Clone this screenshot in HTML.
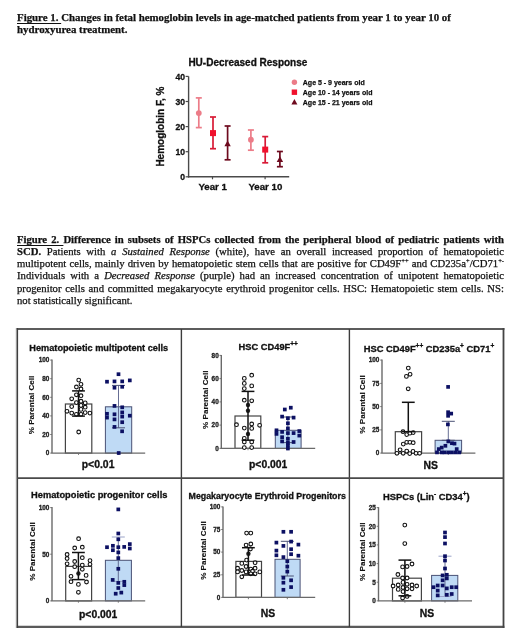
<!DOCTYPE html>
<html><head><meta charset="utf-8"><title>Figures</title>
<style>
html,body{margin:0;padding:0;background:#fff;}
body{width:520px;height:643px;position:relative;overflow:hidden;}
.cap{position:absolute;left:17px;width:487px;font-family:"Liberation Serif", "Times New Roman", serif;color:#111;-webkit-text-stroke:0.25px #111;}
.c1{top:11px;font-size:10.86px;line-height:12px;font-weight:bold;}
.c2{top:233px;font-size:10.7px;line-height:12.16px;}
.c2 .j{display:block;text-align:justify;text-align-last:justify;white-space:nowrap;}
.c2 .l{display:block;white-space:nowrap;}
u{text-decoration-thickness:1px;text-underline-offset:1.5px;}
sup{font-size:6.5px;line-height:0;vertical-align:4px;}
svg{position:absolute;left:0;top:0;}
svg text{font-family:"Liberation Sans", Arial, sans-serif;}
</style></head><body>
<div class="cap c1"><u>Figure 1. </u>Changes in fetal hemoglobin levels in age-matched patients from year 1 to year 10 of<br>hydroxyurea treatment.</div>
<div class="cap c2"><span class="j"><b><u>Figure 2. </u>Difference in subsets of HSPCs collected from the peripheral blood of pediatric patients with</b></span><span class="j"><b>SCD.</b> Patients with <i>a Sustained Response</i> (white), have an overall increased proportion of hematopoietic</span><span class="j">multipotent cells, mainly driven by hematopoietic stem cells that are positive for CD49F<sup>++</sup> and CD235a<sup>+</sup>/CD71<sup>+-</sup></span><span class="j">Individuals with a <i>Decreased Response</i> (purple) had an increased concentration of unipotent hematopoietic</span><span class="j">progenitor cells and committed megakaryocyte erythroid progenitor cells. HSC: Hematopoietic stem cells. NS:</span><span class="l">not statistically significant.</span></div>
<svg width="520" height="643" viewBox="0 0 520 643">
<line x1="188.6" y1="76.4" x2="188.6" y2="177.5" stroke="#4a4a4a" stroke-width="1.4"/>
<line x1="187.9" y1="176.8" x2="289.2" y2="176.8" stroke="#4a4a4a" stroke-width="1.4"/>
<line x1="185.6" y1="176.8" x2="188.6" y2="176.8" stroke="#4a4a4a" stroke-width="1.2"/>
<text x="185" y="179.9" text-anchor="end" font-size="8.6" font-weight="bold" fill="#111" stroke="#111" stroke-width="0.3">0</text>
<line x1="185.6" y1="151.7" x2="188.6" y2="151.7" stroke="#4a4a4a" stroke-width="1.2"/>
<text x="185" y="154.8" text-anchor="end" font-size="8.6" font-weight="bold" fill="#111" stroke="#111" stroke-width="0.3">10</text>
<line x1="185.6" y1="126.6" x2="188.6" y2="126.6" stroke="#4a4a4a" stroke-width="1.2"/>
<text x="185" y="129.7" text-anchor="end" font-size="8.6" font-weight="bold" fill="#111" stroke="#111" stroke-width="0.3">20</text>
<line x1="185.6" y1="101.5" x2="188.6" y2="101.5" stroke="#4a4a4a" stroke-width="1.2"/>
<text x="185" y="104.6" text-anchor="end" font-size="8.6" font-weight="bold" fill="#111" stroke="#111" stroke-width="0.3">30</text>
<line x1="185.6" y1="76.4" x2="188.6" y2="76.4" stroke="#4a4a4a" stroke-width="1.2"/>
<text x="185" y="79.5" text-anchor="end" font-size="8.6" font-weight="bold" fill="#111" stroke="#111" stroke-width="0.3">40</text>
<line x1="212.5" y1="176.8" x2="212.5" y2="179.3" stroke="#4a4a4a" stroke-width="1.2"/>
<line x1="265.1" y1="176.8" x2="265.1" y2="179.3" stroke="#4a4a4a" stroke-width="1.2"/>
<text x="212.7" y="190.1" text-anchor="middle" font-size="9.7" font-weight="bold" fill="#111" stroke="#111" stroke-width="0.3">Year 1</text>
<text x="265.4" y="190.1" text-anchor="middle" font-size="9.7" font-weight="bold" fill="#111" stroke="#111" stroke-width="0.3">Year 10</text>
<text x="188.4" y="66.2" font-size="10" font-weight="bold" fill="#111" stroke="#111" stroke-width="0.3">HU-Decreased Response</text>
<text transform="translate(163.6,126.6) rotate(-90)" text-anchor="middle" font-size="10" font-weight="bold" fill="#111" stroke="#111" stroke-width="0.3">Hemoglobin F, %</text>
<line x1="198.8" y1="97.9" x2="198.8" y2="127.6" stroke="#ec7c88" stroke-width="1.7"/>
<line x1="195.8" y1="97.9" x2="201.8" y2="97.9" stroke="#ec7c88" stroke-width="1.7"/>
<line x1="195.8" y1="127.6" x2="201.8" y2="127.6" stroke="#ec7c88" stroke-width="1.7"/>
<circle cx="198.8" cy="113.1" r="2.9" fill="#ec7c88"/>
<line x1="213.0" y1="117.0" x2="213.0" y2="148.7" stroke="#d81a36" stroke-width="1.7"/>
<line x1="210.0" y1="117.0" x2="216.0" y2="117.0" stroke="#d81a36" stroke-width="1.7"/>
<line x1="210.0" y1="148.7" x2="216.0" y2="148.7" stroke="#d81a36" stroke-width="1.7"/>
<rect x="210.0" y="130.1" width="6" height="6" fill="#f0102c"/>
<line x1="227.6" y1="126.0" x2="227.6" y2="159.8" stroke="#6e0a1e" stroke-width="1.7"/>
<line x1="224.6" y1="126.0" x2="230.6" y2="126.0" stroke="#6e0a1e" stroke-width="1.7"/>
<line x1="224.6" y1="159.8" x2="230.6" y2="159.8" stroke="#6e0a1e" stroke-width="1.7"/>
<polygon points="227.6,140.4 230.8,146.2 224.4,146.2" fill="#6e0a1e"/>
<line x1="250.9" y1="130.0" x2="250.9" y2="150.2" stroke="#ec7c88" stroke-width="1.7"/>
<line x1="247.9" y1="130.0" x2="253.9" y2="130.0" stroke="#ec7c88" stroke-width="1.7"/>
<line x1="247.9" y1="150.2" x2="253.9" y2="150.2" stroke="#ec7c88" stroke-width="1.7"/>
<circle cx="250.9" cy="139.7" r="2.9" fill="#ec7c88"/>
<line x1="265.2" y1="136.6" x2="265.2" y2="162.8" stroke="#d81a36" stroke-width="1.7"/>
<line x1="262.2" y1="136.6" x2="268.2" y2="136.6" stroke="#d81a36" stroke-width="1.7"/>
<line x1="262.2" y1="162.8" x2="268.2" y2="162.8" stroke="#d81a36" stroke-width="1.7"/>
<rect x="262.2" y="146.6" width="6" height="6" fill="#f0102c"/>
<line x1="279.9" y1="151.5" x2="279.9" y2="166.7" stroke="#6e0a1e" stroke-width="1.7"/>
<line x1="276.9" y1="151.5" x2="282.9" y2="151.5" stroke="#6e0a1e" stroke-width="1.7"/>
<line x1="276.9" y1="166.7" x2="282.9" y2="166.7" stroke="#6e0a1e" stroke-width="1.7"/>
<polygon points="279.9,156.2 283.1,162.0 276.7,162.0" fill="#6e0a1e"/>
<circle cx="294.4" cy="82.3" r="2.7" fill="#ec7c88"/>
<rect x="291.7" y="89.5" width="5.4" height="5.4" fill="#f0102c"/>
<polygon points="294.4,99.0 297.4,104.4 291.4,104.4" fill="#6e0a1e"/>
<text x="302.8" y="84.8" font-size="7" font-weight="bold" fill="#111" stroke="#111" stroke-width="0.25">Age 5 - 9 years old</text>
<text x="302.8" y="94.7" font-size="7" font-weight="bold" fill="#111" stroke="#111" stroke-width="0.25">Age 10 - 14 years old</text>
<text x="302.8" y="104.7" font-size="7" font-weight="bold" fill="#111" stroke="#111" stroke-width="0.25">Age 15 - 21 years old</text>
<line x1="16.3" y1="329" x2="504.4" y2="329" stroke="#5c5c5c" stroke-width="2.1"/>
<line x1="16.3" y1="626.9" x2="504.4" y2="626.9" stroke="#5a5a5a" stroke-width="2.1"/>
<line x1="17.2" y1="328" x2="17.2" y2="628" stroke="#3e3e3e" stroke-width="1.8"/>
<line x1="16.2" y1="328" x2="16.2" y2="628" stroke="#b8b8b8" stroke-width="0.8"/>
<line x1="503.5" y1="328" x2="503.5" y2="628" stroke="#444" stroke-width="1.8"/>
<line x1="181.4" y1="329" x2="181.4" y2="627" stroke="#3c3c3c" stroke-width="1.4"/>
<line x1="349.4" y1="329" x2="349.4" y2="627" stroke="#3c3c3c" stroke-width="1.4"/>
<line x1="17" y1="478.2" x2="503.5" y2="478.2" stroke="#4a4a4a" stroke-width="1.7"/>
<text x="29.3" y="351.0" font-size="9.2" font-weight="bold" fill="#111" stroke="#111" stroke-width="0.3">Hematopoietic multipotent cells</text>
<text transform="translate(34.4,405.0) rotate(-90)" text-anchor="middle" font-size="8.1" font-weight="bold" fill="#111" stroke="#111" stroke-width="0.12">% Parental Cell</text>
<rect x="65.4" y="404.0" width="26.4" height="49.1" fill="#fff" stroke="#444" stroke-width="1.2"/>
<rect x="105.4" y="406.8" width="26.3" height="46.3" fill="#bfdaf5" stroke="#4a5275" stroke-width="1"/>
<line x1="52.0" y1="359.6" x2="52.0" y2="453.1" stroke="#6a6a6a" stroke-width="1.4"/>
<line x1="51.5" y1="453.1" x2="145.2" y2="453.1" stroke="#6a6a6a" stroke-width="1.3"/>
<line x1="50.2" y1="453.1" x2="52.0" y2="453.1" stroke="#6a6a6a" stroke-width="0.9"/>
<text x="49.4" y="455.4" text-anchor="end" font-size="6.4" font-weight="bold" fill="#222" stroke="#222" stroke-width="0.3">0</text>
<line x1="50.2" y1="434.5" x2="52.0" y2="434.5" stroke="#6a6a6a" stroke-width="0.9"/>
<text x="49.4" y="436.8" text-anchor="end" font-size="6.4" font-weight="bold" fill="#222" stroke="#222" stroke-width="0.3">20</text>
<line x1="50.2" y1="415.9" x2="52.0" y2="415.9" stroke="#6a6a6a" stroke-width="0.9"/>
<text x="49.4" y="418.2" text-anchor="end" font-size="6.4" font-weight="bold" fill="#222" stroke="#222" stroke-width="0.3">40</text>
<line x1="50.2" y1="397.3" x2="52.0" y2="397.3" stroke="#6a6a6a" stroke-width="0.9"/>
<text x="49.4" y="399.6" text-anchor="end" font-size="6.4" font-weight="bold" fill="#222" stroke="#222" stroke-width="0.3">60</text>
<line x1="50.2" y1="378.7" x2="52.0" y2="378.7" stroke="#6a6a6a" stroke-width="0.9"/>
<text x="49.4" y="381.0" text-anchor="end" font-size="6.4" font-weight="bold" fill="#222" stroke="#222" stroke-width="0.3">80</text>
<line x1="50.2" y1="360.1" x2="52.0" y2="360.1" stroke="#6a6a6a" stroke-width="0.9"/>
<text x="49.4" y="362.4" text-anchor="end" font-size="6.4" font-weight="bold" fill="#222" stroke="#222" stroke-width="0.3">100</text>
<line x1="78.5" y1="453.1" x2="78.5" y2="454.90000000000003" stroke="#6a6a6a" stroke-width="0.9"/>
<line x1="118.5" y1="453.1" x2="118.5" y2="454.90000000000003" stroke="#6a6a6a" stroke-width="0.9"/>
<line x1="118.5" y1="385.4" x2="118.5" y2="427.8" stroke="#565d88" stroke-width="0.9"/>
<line x1="112.0" y1="385.4" x2="125.0" y2="385.4" stroke="#4a5275" stroke-width="1"/>
<line x1="112.0" y1="427.8" x2="125.0" y2="427.8" stroke="#4a5275" stroke-width="1"/>
<circle cx="78.7" cy="380.1" r="1.85" fill="#fff" stroke="#111" stroke-width="1.1"/>
<circle cx="81.0" cy="384.3" r="1.85" fill="#fff" stroke="#111" stroke-width="1.1"/>
<circle cx="76.4" cy="387" r="1.85" fill="#fff" stroke="#111" stroke-width="1.1"/>
<circle cx="81" cy="389" r="1.85" fill="#fff" stroke="#111" stroke-width="1.1"/>
<circle cx="76.4" cy="394.8" r="1.85" fill="#fff" stroke="#111" stroke-width="1.1"/>
<circle cx="81" cy="395.7" r="1.85" fill="#fff" stroke="#111" stroke-width="1.1"/>
<circle cx="71.7" cy="398.8" r="1.85" fill="#fff" stroke="#111" stroke-width="1.1"/>
<circle cx="76.4" cy="402.6" r="1.85" fill="#fff" stroke="#111" stroke-width="1.1"/>
<circle cx="81" cy="401.2" r="1.85" fill="#fff" stroke="#111" stroke-width="1.1"/>
<circle cx="85.2" cy="402.9" r="1.85" fill="#fff" stroke="#111" stroke-width="1.1"/>
<circle cx="71.7" cy="406.6" r="1.85" fill="#fff" stroke="#111" stroke-width="1.1"/>
<circle cx="81" cy="405.4" r="1.85" fill="#fff" stroke="#111" stroke-width="1.1"/>
<circle cx="85.2" cy="407.2" r="1.85" fill="#fff" stroke="#111" stroke-width="1.1"/>
<circle cx="67" cy="411.3" r="1.85" fill="#fff" stroke="#111" stroke-width="1.1"/>
<circle cx="81" cy="409.4" r="1.85" fill="#fff" stroke="#111" stroke-width="1.1"/>
<circle cx="71.7" cy="413.1" r="1.85" fill="#fff" stroke="#111" stroke-width="1.1"/>
<circle cx="76.4" cy="414.3" r="1.85" fill="#fff" stroke="#111" stroke-width="1.1"/>
<circle cx="81" cy="414.3" r="1.85" fill="#fff" stroke="#111" stroke-width="1.1"/>
<circle cx="85.2" cy="412.6" r="1.85" fill="#fff" stroke="#111" stroke-width="1.1"/>
<circle cx="89.9" cy="413.1" r="1.85" fill="#fff" stroke="#111" stroke-width="1.1"/>
<circle cx="78.7" cy="432" r="1.85" fill="#fff" stroke="#111" stroke-width="1.1"/>
<rect x="116.65" y="372.35" width="3.7" height="3.7" fill="#0c1063"/>
<rect x="105.15" y="379.85" width="3.7" height="3.7" fill="#0c1063"/>
<rect x="112.65" y="379.55" width="3.7" height="3.7" fill="#0c1063"/>
<rect x="120.35" y="379.55" width="3.7" height="3.7" fill="#0c1063"/>
<rect x="127.95" y="378.55" width="3.7" height="3.7" fill="#0c1063"/>
<rect x="112.65" y="385.85" width="3.7" height="3.7" fill="#0c1063"/>
<rect x="120.35" y="384.95" width="3.7" height="3.7" fill="#0c1063"/>
<rect x="112.65" y="404.05" width="3.7" height="3.7" fill="#0c1063"/>
<rect x="120.35" y="405.45" width="3.7" height="3.7" fill="#0c1063"/>
<rect x="120.35" y="410.55" width="3.7" height="3.7" fill="#0c1063"/>
<rect x="105.15" y="411.95" width="3.7" height="3.7" fill="#0c1063"/>
<rect x="105.15" y="415.75" width="3.7" height="3.7" fill="#0c1063"/>
<rect x="112.65" y="412.45" width="3.7" height="3.7" fill="#0c1063"/>
<rect x="120.35" y="414.75" width="3.7" height="3.7" fill="#0c1063"/>
<rect x="127.95" y="413.85" width="3.7" height="3.7" fill="#0c1063"/>
<rect x="112.65" y="417.55" width="3.7" height="3.7" fill="#0c1063"/>
<rect x="120.35" y="420.35" width="3.7" height="3.7" fill="#0c1063"/>
<rect x="112.65" y="425.05" width="3.7" height="3.7" fill="#0c1063"/>
<rect x="120.25" y="429.45" width="3.7" height="3.7" fill="#0c1063"/>
<rect x="116.85" y="451.15" width="3.7" height="3.7" fill="#0c1063"/>
<line x1="78.5" y1="390.9" x2="78.5" y2="416.1" stroke="#111" stroke-width="1.5"/>
<line x1="72.1" y1="390.9" x2="84.9" y2="390.9" stroke="#111" stroke-width="1.5"/>
<line x1="72.1" y1="416.1" x2="84.9" y2="416.1" stroke="#111" stroke-width="1.5"/>
<text x="98.1" y="468.3" text-anchor="middle" font-size="10.4" font-weight="bold" fill="#111" stroke="#111" stroke-width="0.3">p&lt;0.01</text>
<text x="238.6" y="349.8" font-size="9.3" font-weight="bold" fill="#111" stroke="#111" stroke-width="0.3">HSC CD49F<tspan font-size="6.5" dy="-3.4">++</tspan></text>
<text transform="translate(207.9,399.7) rotate(-90)" text-anchor="middle" font-size="8.1" font-weight="bold" fill="#111" stroke="#111" stroke-width="0.12">% Parental Cell</text>
<rect x="235.0" y="416.0" width="25.8" height="32.4" fill="#fff" stroke="#444" stroke-width="1.2"/>
<rect x="275.3" y="430.3" width="25.8" height="18.1" fill="#bfdaf5" stroke="#4a5275" stroke-width="1"/>
<line x1="221.3" y1="354.9" x2="221.3" y2="448.4" stroke="#6a6a6a" stroke-width="1.4"/>
<line x1="220.8" y1="448.4" x2="315.2" y2="448.4" stroke="#6a6a6a" stroke-width="1.3"/>
<line x1="219.5" y1="448.4" x2="221.3" y2="448.4" stroke="#6a6a6a" stroke-width="0.9"/>
<text x="218.7" y="450.7" text-anchor="end" font-size="6.4" font-weight="bold" fill="#222" stroke="#222" stroke-width="0.3">0</text>
<line x1="219.5" y1="425.1" x2="221.3" y2="425.1" stroke="#6a6a6a" stroke-width="0.9"/>
<text x="218.7" y="427.4" text-anchor="end" font-size="6.4" font-weight="bold" fill="#222" stroke="#222" stroke-width="0.3">20</text>
<line x1="219.5" y1="401.9" x2="221.3" y2="401.9" stroke="#6a6a6a" stroke-width="0.9"/>
<text x="218.7" y="404.2" text-anchor="end" font-size="6.4" font-weight="bold" fill="#222" stroke="#222" stroke-width="0.3">40</text>
<line x1="219.5" y1="378.6" x2="221.3" y2="378.6" stroke="#6a6a6a" stroke-width="0.9"/>
<text x="218.7" y="380.9" text-anchor="end" font-size="6.4" font-weight="bold" fill="#222" stroke="#222" stroke-width="0.3">60</text>
<line x1="219.5" y1="355.4" x2="221.3" y2="355.4" stroke="#6a6a6a" stroke-width="0.9"/>
<text x="218.7" y="357.7" text-anchor="end" font-size="6.4" font-weight="bold" fill="#222" stroke="#222" stroke-width="0.3">80</text>
<line x1="248.0" y1="448.4" x2="248.0" y2="450.2" stroke="#6a6a6a" stroke-width="0.9"/>
<line x1="287.9" y1="448.4" x2="287.9" y2="450.2" stroke="#6a6a6a" stroke-width="0.9"/>
<line x1="287.9" y1="417.0" x2="287.9" y2="442.6" stroke="#565d88" stroke-width="0.9"/>
<line x1="281.4" y1="417.0" x2="294.4" y2="417.0" stroke="#4a5275" stroke-width="1"/>
<line x1="281.4" y1="442.6" x2="294.4" y2="442.6" stroke="#4a5275" stroke-width="1"/>
<circle cx="251.7" cy="375.2" r="1.85" fill="#fff" stroke="#111" stroke-width="1.1"/>
<circle cx="244.3" cy="378.4" r="1.85" fill="#fff" stroke="#111" stroke-width="1.1"/>
<circle cx="244.3" cy="383.4" r="1.85" fill="#fff" stroke="#111" stroke-width="1.1"/>
<circle cx="251.7" cy="385.9" r="1.85" fill="#fff" stroke="#111" stroke-width="1.1"/>
<circle cx="244.3" cy="388.6" r="1.85" fill="#fff" stroke="#111" stroke-width="1.1"/>
<circle cx="244.3" cy="400.2" r="1.85" fill="#fff" stroke="#111" stroke-width="1.1"/>
<circle cx="251.7" cy="400.8" r="1.85" fill="#fff" stroke="#111" stroke-width="1.1"/>
<circle cx="236.5" cy="424.7" r="1.85" fill="#fff" stroke="#111" stroke-width="1.1"/>
<circle cx="251.7" cy="424.0" r="1.85" fill="#fff" stroke="#111" stroke-width="1.1"/>
<circle cx="259.6" cy="425.3" r="1.85" fill="#fff" stroke="#111" stroke-width="1.1"/>
<circle cx="244.3" cy="428.1" r="1.85" fill="#fff" stroke="#111" stroke-width="1.1"/>
<circle cx="251.7" cy="428.4" r="1.85" fill="#fff" stroke="#111" stroke-width="1.1"/>
<circle cx="244.3" cy="438.3" r="1.85" fill="#fff" stroke="#111" stroke-width="1.1"/>
<circle cx="244.3" cy="442.0" r="1.85" fill="#fff" stroke="#111" stroke-width="1.1"/>
<circle cx="251.7" cy="442.0" r="1.85" fill="#fff" stroke="#111" stroke-width="1.1"/>
<circle cx="244.3" cy="447.6" r="1.85" fill="#fff" stroke="#111" stroke-width="1.1"/>
<circle cx="251.7" cy="447.6" r="1.85" fill="#fff" stroke="#111" stroke-width="1.1"/>
<circle cx="248" cy="405" r="2.2" fill="#222"/>
<circle cx="248" cy="410.7" r="2.2" fill="#222"/>
<circle cx="248" cy="434" r="2.2" fill="#222"/>
<rect x="288.95" y="405.85" width="3.7" height="3.7" fill="#0c1063"/>
<rect x="282.95" y="407.65" width="3.7" height="3.7" fill="#0c1063"/>
<rect x="280.25" y="414.75" width="3.7" height="3.7" fill="#0c1063"/>
<rect x="286.05" y="416.35" width="3.7" height="3.7" fill="#0c1063"/>
<rect x="291.75" y="415.75" width="3.7" height="3.7" fill="#0c1063"/>
<rect x="286.05" y="421.45" width="3.7" height="3.7" fill="#0c1063"/>
<rect x="286.05" y="426.55" width="3.7" height="3.7" fill="#0c1063"/>
<rect x="274.65" y="428.45" width="3.7" height="3.7" fill="#0c1063"/>
<rect x="274.65" y="432.05" width="3.7" height="3.7" fill="#0c1063"/>
<rect x="280.25" y="430.05" width="3.7" height="3.7" fill="#0c1063"/>
<rect x="286.05" y="431.25" width="3.7" height="3.7" fill="#0c1063"/>
<rect x="291.75" y="431.25" width="3.7" height="3.7" fill="#0c1063"/>
<rect x="297.45" y="429.25" width="3.7" height="3.7" fill="#0c1063"/>
<rect x="297.45" y="433.75" width="3.7" height="3.7" fill="#0c1063"/>
<rect x="280.25" y="435.35" width="3.7" height="3.7" fill="#0c1063"/>
<rect x="280.25" y="439.55" width="3.7" height="3.7" fill="#0c1063"/>
<rect x="286.05" y="436.95" width="3.7" height="3.7" fill="#0c1063"/>
<rect x="286.05" y="440.95" width="3.7" height="3.7" fill="#0c1063"/>
<rect x="291.75" y="440.15" width="3.7" height="3.7" fill="#0c1063"/>
<rect x="286.05" y="443.45" width="3.7" height="3.7" fill="#0c1063"/>
<rect x="286.05" y="446.65" width="3.7" height="3.7" fill="#0c1063"/>
<line x1="248.0" y1="391.4" x2="248.0" y2="440.2" stroke="#111" stroke-width="1.5"/>
<line x1="241.6" y1="391.4" x2="254.4" y2="391.4" stroke="#111" stroke-width="1.5"/>
<line x1="241.6" y1="440.2" x2="254.4" y2="440.2" stroke="#111" stroke-width="1.5"/>
<text x="268.2" y="468.3" text-anchor="middle" font-size="10.4" font-weight="bold" fill="#111" stroke="#111" stroke-width="0.3">p&lt;0.001</text>
<text x="363.7" y="351.8" font-size="9.35" font-weight="bold" fill="#111" stroke="#111" stroke-width="0.3">HSC CD49F<tspan font-size="6.5" dy="-3.4">++</tspan><tspan dy="3.4"> CD235a</tspan><tspan font-size="6.5" dy="-3.4">+</tspan><tspan dy="3.4"> CD71</tspan><tspan font-size="6.5" dy="-3.4">+</tspan></text>
<text transform="translate(364.5,404.4) rotate(-90)" text-anchor="middle" font-size="8.1" font-weight="bold" fill="#111" stroke="#111" stroke-width="0.12">% Parental Cell</text>
<rect x="395.3" y="431.7" width="26.3" height="21.4" fill="#fff" stroke="#444" stroke-width="1.2"/>
<rect x="435.1" y="440.3" width="26.5" height="12.8" fill="#bfdaf5" stroke="#4a5275" stroke-width="1"/>
<line x1="382.0" y1="359.6" x2="382.0" y2="453.1" stroke="#6a6a6a" stroke-width="1.4"/>
<line x1="381.5" y1="453.1" x2="475.4" y2="453.1" stroke="#6a6a6a" stroke-width="1.3"/>
<line x1="380.2" y1="453.1" x2="382.0" y2="453.1" stroke="#6a6a6a" stroke-width="0.9"/>
<text x="379.4" y="455.4" text-anchor="end" font-size="6.4" font-weight="bold" fill="#222" stroke="#222" stroke-width="0.3">0</text>
<line x1="380.2" y1="429.9" x2="382.0" y2="429.9" stroke="#6a6a6a" stroke-width="0.9"/>
<text x="379.4" y="432.2" text-anchor="end" font-size="6.4" font-weight="bold" fill="#222" stroke="#222" stroke-width="0.3">25</text>
<line x1="380.2" y1="406.6" x2="382.0" y2="406.6" stroke="#6a6a6a" stroke-width="0.9"/>
<text x="379.4" y="408.9" text-anchor="end" font-size="6.4" font-weight="bold" fill="#222" stroke="#222" stroke-width="0.3">50</text>
<line x1="380.2" y1="383.4" x2="382.0" y2="383.4" stroke="#6a6a6a" stroke-width="0.9"/>
<text x="379.4" y="385.7" text-anchor="end" font-size="6.4" font-weight="bold" fill="#222" stroke="#222" stroke-width="0.3">75</text>
<line x1="380.2" y1="360.1" x2="382.0" y2="360.1" stroke="#6a6a6a" stroke-width="0.9"/>
<text x="379.4" y="362.4" text-anchor="end" font-size="6.4" font-weight="bold" fill="#222" stroke="#222" stroke-width="0.3">100</text>
<line x1="408.3" y1="453.1" x2="408.3" y2="454.90000000000003" stroke="#6a6a6a" stroke-width="0.9"/>
<line x1="448.3" y1="453.1" x2="448.3" y2="454.90000000000003" stroke="#6a6a6a" stroke-width="0.9"/>
<line x1="448.3" y1="421.3" x2="448.3" y2="440.3" stroke="#565d88" stroke-width="0.9"/>
<line x1="441.8" y1="421.3" x2="454.8" y2="421.3" stroke="#4a5275" stroke-width="1"/>
<line x1="441.8" y1="440.3" x2="454.8" y2="440.3" stroke="#4a5275" stroke-width="1"/>
<circle cx="408.3" cy="368.1" r="1.85" fill="#fff" stroke="#111" stroke-width="1.1"/>
<circle cx="410.1" cy="374.3" r="1.85" fill="#fff" stroke="#111" stroke-width="1.1"/>
<circle cx="406.4" cy="376.4" r="1.85" fill="#fff" stroke="#111" stroke-width="1.1"/>
<circle cx="408.2" cy="388.8" r="1.85" fill="#fff" stroke="#111" stroke-width="1.1"/>
<circle cx="403" cy="431.7" r="1.85" fill="#fff" stroke="#111" stroke-width="1.1"/>
<circle cx="406.7" cy="434.6" r="1.85" fill="#fff" stroke="#111" stroke-width="1.1"/>
<circle cx="409.9" cy="433.2" r="1.85" fill="#fff" stroke="#111" stroke-width="1.1"/>
<circle cx="413.2" cy="432.6" r="1.85" fill="#fff" stroke="#111" stroke-width="1.1"/>
<circle cx="403.3" cy="444.1" r="1.85" fill="#fff" stroke="#111" stroke-width="1.1"/>
<circle cx="406.7" cy="442.3" r="1.85" fill="#fff" stroke="#111" stroke-width="1.1"/>
<circle cx="409.9" cy="442.3" r="1.85" fill="#fff" stroke="#111" stroke-width="1.1"/>
<circle cx="413.2" cy="442.7" r="1.85" fill="#fff" stroke="#111" stroke-width="1.1"/>
<circle cx="400.1" cy="449.8" r="1.85" fill="#fff" stroke="#111" stroke-width="1.1"/>
<circle cx="406.7" cy="451.1" r="1.85" fill="#fff" stroke="#111" stroke-width="1.1"/>
<circle cx="413" cy="451.4" r="1.85" fill="#fff" stroke="#111" stroke-width="1.1"/>
<circle cx="396.9" cy="453.3" r="1.85" fill="#fff" stroke="#111" stroke-width="1.1"/>
<circle cx="403.2" cy="453.3" r="1.85" fill="#fff" stroke="#111" stroke-width="1.1"/>
<circle cx="409.7" cy="453.6" r="1.85" fill="#fff" stroke="#111" stroke-width="1.1"/>
<circle cx="416" cy="453.3" r="1.85" fill="#fff" stroke="#111" stroke-width="1.1"/>
<circle cx="419.6" cy="453.3" r="1.85" fill="#fff" stroke="#111" stroke-width="1.1"/>
<rect x="446.25" y="385.05" width="3.7" height="3.7" fill="#0c1063"/>
<rect x="446.25" y="410.35" width="3.7" height="3.7" fill="#0c1063"/>
<rect x="449.35" y="411.75" width="3.7" height="3.7" fill="#0c1063"/>
<rect x="446.25" y="413.95" width="3.7" height="3.7" fill="#0c1063"/>
<rect x="446.05" y="422.55" width="3.7" height="3.7" fill="#0c1063"/>
<rect x="446.45" y="439.55" width="3.7" height="3.7" fill="#0c1063"/>
<rect x="450.05" y="441.35" width="3.7" height="3.7" fill="#0c1063"/>
<rect x="452.65" y="441.75" width="3.7" height="3.7" fill="#0c1063"/>
<rect x="443.55" y="443.95" width="3.7" height="3.7" fill="#0c1063"/>
<rect x="439.85" y="445.75" width="3.7" height="3.7" fill="#0c1063"/>
<rect x="436.95" y="447.25" width="3.7" height="3.7" fill="#0c1063"/>
<rect x="454.85" y="447.25" width="3.7" height="3.7" fill="#0c1063"/>
<rect x="435.15" y="450.55" width="3.7" height="3.7" fill="#0c1063"/>
<rect x="439.85" y="450.55" width="3.7" height="3.7" fill="#0c1063"/>
<rect x="442.75" y="450.55" width="3.7" height="3.7" fill="#0c1063"/>
<rect x="446.45" y="450.55" width="3.7" height="3.7" fill="#0c1063"/>
<rect x="450.05" y="450.55" width="3.7" height="3.7" fill="#0c1063"/>
<rect x="453.75" y="450.55" width="3.7" height="3.7" fill="#0c1063"/>
<rect x="457.35" y="450.55" width="3.7" height="3.7" fill="#0c1063"/>
<line x1="408.3" y1="402.3" x2="408.3" y2="431.7" stroke="#111" stroke-width="1.5"/>
<line x1="401.9" y1="402.3" x2="414.7" y2="402.3" stroke="#111" stroke-width="1.5"/>
<line x1="401.9" y1="431.7" x2="414.7" y2="431.7" stroke="#111" stroke-width="1.5"/>
<text x="430.8" y="468.6" text-anchor="middle" font-size="10.4" font-weight="bold" fill="#111" stroke="#111" stroke-width="0.3">NS</text>
<text x="31.0" y="498.4" font-size="9.3" font-weight="bold" fill="#111" stroke="#111" stroke-width="0.3">Hematopoietic progenitor cells</text>
<text transform="translate(34.5,551.5) rotate(-90)" text-anchor="middle" font-size="8.1" font-weight="bold" fill="#111" stroke="#111" stroke-width="0.12">% Parental Cell</text>
<rect x="65.7" y="566.4" width="25.9" height="34.5" fill="#fff" stroke="#444" stroke-width="1.2"/>
<rect x="105.4" y="560.3" width="26.0" height="40.6" fill="#bfdaf5" stroke="#4a5275" stroke-width="1"/>
<line x1="52.0" y1="507.1" x2="52.0" y2="600.9" stroke="#6a6a6a" stroke-width="1.4"/>
<line x1="51.5" y1="600.9" x2="145.2" y2="600.9" stroke="#6a6a6a" stroke-width="1.3"/>
<line x1="50.2" y1="600.9" x2="52.0" y2="600.9" stroke="#6a6a6a" stroke-width="0.9"/>
<text x="49.4" y="603.2" text-anchor="end" font-size="6.4" font-weight="bold" fill="#222" stroke="#222" stroke-width="0.3">0</text>
<line x1="50.2" y1="554.2" x2="52.0" y2="554.2" stroke="#6a6a6a" stroke-width="0.9"/>
<text x="49.4" y="556.5" text-anchor="end" font-size="6.4" font-weight="bold" fill="#222" stroke="#222" stroke-width="0.3">50</text>
<line x1="50.2" y1="507.6" x2="52.0" y2="507.6" stroke="#6a6a6a" stroke-width="0.9"/>
<text x="49.4" y="509.9" text-anchor="end" font-size="6.4" font-weight="bold" fill="#222" stroke="#222" stroke-width="0.3">100</text>
<line x1="78.4" y1="600.9" x2="78.4" y2="602.6999999999999" stroke="#6a6a6a" stroke-width="0.9"/>
<line x1="118.3" y1="600.9" x2="118.3" y2="602.6999999999999" stroke="#6a6a6a" stroke-width="0.9"/>
<line x1="118.3" y1="537.0" x2="118.3" y2="581.4" stroke="#565d88" stroke-width="0.9"/>
<line x1="111.8" y1="537.0" x2="124.8" y2="537.0" stroke="#9aa3c8" stroke-width="1"/>
<line x1="111.8" y1="581.4" x2="124.8" y2="581.4" stroke="#9aa3c8" stroke-width="1"/>
<circle cx="78.6" cy="538.7" r="1.85" fill="#fff" stroke="#111" stroke-width="1.1"/>
<circle cx="74.7" cy="548" r="1.85" fill="#fff" stroke="#111" stroke-width="1.1"/>
<circle cx="82.3" cy="547.2" r="1.85" fill="#fff" stroke="#111" stroke-width="1.1"/>
<circle cx="67.1" cy="554.5" r="1.85" fill="#fff" stroke="#111" stroke-width="1.1"/>
<circle cx="67.1" cy="558.5" r="1.85" fill="#fff" stroke="#111" stroke-width="1.1"/>
<circle cx="67.1" cy="563.8" r="1.85" fill="#fff" stroke="#111" stroke-width="1.1"/>
<circle cx="82.3" cy="557.7" r="1.85" fill="#fff" stroke="#111" stroke-width="1.1"/>
<circle cx="74.7" cy="561.5" r="1.85" fill="#fff" stroke="#111" stroke-width="1.1"/>
<circle cx="74.7" cy="566.7" r="1.85" fill="#fff" stroke="#111" stroke-width="1.1"/>
<circle cx="82.3" cy="565.1" r="1.85" fill="#fff" stroke="#111" stroke-width="1.1"/>
<circle cx="82.3" cy="569.3" r="1.85" fill="#fff" stroke="#111" stroke-width="1.1"/>
<circle cx="90" cy="560.6" r="1.85" fill="#fff" stroke="#111" stroke-width="1.1"/>
<circle cx="90" cy="564.3" r="1.85" fill="#fff" stroke="#111" stroke-width="1.1"/>
<circle cx="71" cy="576.3" r="1.85" fill="#fff" stroke="#111" stroke-width="1.1"/>
<circle cx="86.1" cy="575.4" r="1.85" fill="#fff" stroke="#111" stroke-width="1.1"/>
<circle cx="71" cy="581.7" r="1.85" fill="#fff" stroke="#111" stroke-width="1.1"/>
<circle cx="86.5" cy="582" r="1.85" fill="#fff" stroke="#111" stroke-width="1.1"/>
<circle cx="78.4" cy="584.4" r="1.85" fill="#fff" stroke="#111" stroke-width="1.1"/>
<circle cx="78.4" cy="592.3" r="1.85" fill="#fff" stroke="#111" stroke-width="1.1"/>
<circle cx="78.4" cy="573.5" r="2.2" fill="#222"/>
<rect x="116.45" y="507.55" width="3.7" height="3.7" fill="#0c1063"/>
<rect x="116.45" y="531.65" width="3.7" height="3.7" fill="#0c1063"/>
<rect x="116.45" y="537.45" width="3.7" height="3.7" fill="#0c1063"/>
<rect x="105.15" y="545.35" width="3.7" height="3.7" fill="#0c1063"/>
<rect x="111.05" y="543.95" width="3.7" height="3.7" fill="#0c1063"/>
<rect x="111.05" y="548.35" width="3.7" height="3.7" fill="#0c1063"/>
<rect x="116.45" y="545.35" width="3.7" height="3.7" fill="#0c1063"/>
<rect x="122.35" y="545.05" width="3.7" height="3.7" fill="#0c1063"/>
<rect x="127.95" y="542.25" width="3.7" height="3.7" fill="#0c1063"/>
<rect x="127.95" y="546.65" width="3.7" height="3.7" fill="#0c1063"/>
<rect x="116.45" y="550.55" width="3.7" height="3.7" fill="#0c1063"/>
<rect x="116.45" y="556.25" width="3.7" height="3.7" fill="#0c1063"/>
<rect x="116.45" y="566.95" width="3.7" height="3.7" fill="#0c1063"/>
<rect x="110.85" y="578.05" width="3.7" height="3.7" fill="#0c1063"/>
<rect x="116.45" y="581.05" width="3.7" height="3.7" fill="#0c1063"/>
<rect x="122.45" y="579.95" width="3.7" height="3.7" fill="#0c1063"/>
<rect x="122.45" y="583.25" width="3.7" height="3.7" fill="#0c1063"/>
<rect x="116.45" y="586.15" width="3.7" height="3.7" fill="#0c1063"/>
<rect x="113.85" y="591.85" width="3.7" height="3.7" fill="#0c1063"/>
<rect x="119.45" y="590.75" width="3.7" height="3.7" fill="#0c1063"/>
<line x1="78.4" y1="552.5" x2="78.4" y2="579.6" stroke="#111" stroke-width="1.5"/>
<line x1="72.0" y1="552.5" x2="84.8" y2="552.5" stroke="#111" stroke-width="1.5"/>
<line x1="72.0" y1="579.6" x2="84.8" y2="579.6" stroke="#111" stroke-width="1.5"/>
<text x="98.2" y="618.2" text-anchor="middle" font-size="10.4" font-weight="bold" fill="#111" stroke="#111" stroke-width="0.3">p&lt;0.001</text>
<text x="188.6" y="499.3" font-size="8.82" font-weight="bold" fill="#111" stroke="#111" stroke-width="0.3">Megakaryocyte Erythroid Progenitors</text>
<text transform="translate(206.4,550.6) rotate(-90)" text-anchor="middle" font-size="8.1" font-weight="bold" fill="#111" stroke="#111" stroke-width="0.12">% Parental Cell</text>
<rect x="235.9" y="561.4" width="25.6" height="36.0" fill="#fff" stroke="#444" stroke-width="1.2"/>
<rect x="275.0" y="559.3" width="25.1" height="38.1" fill="#bfdaf5" stroke="#4a5275" stroke-width="1"/>
<line x1="223.0" y1="506.4" x2="223.0" y2="597.4" stroke="#6a6a6a" stroke-width="1.4"/>
<line x1="222.5" y1="597.4" x2="315.2" y2="597.4" stroke="#6a6a6a" stroke-width="1.3"/>
<line x1="221.2" y1="597.4" x2="223.0" y2="597.4" stroke="#6a6a6a" stroke-width="0.9"/>
<text x="220.4" y="599.7" text-anchor="end" font-size="6.4" font-weight="bold" fill="#222" stroke="#222" stroke-width="0.3">0</text>
<line x1="221.2" y1="574.8" x2="223.0" y2="574.8" stroke="#6a6a6a" stroke-width="0.9"/>
<text x="220.4" y="577.1" text-anchor="end" font-size="6.4" font-weight="bold" fill="#222" stroke="#222" stroke-width="0.3">25</text>
<line x1="221.2" y1="552.1" x2="223.0" y2="552.1" stroke="#6a6a6a" stroke-width="0.9"/>
<text x="220.4" y="554.4" text-anchor="end" font-size="6.4" font-weight="bold" fill="#222" stroke="#222" stroke-width="0.3">50</text>
<line x1="221.2" y1="529.5" x2="223.0" y2="529.5" stroke="#6a6a6a" stroke-width="0.9"/>
<text x="220.4" y="531.8" text-anchor="end" font-size="6.4" font-weight="bold" fill="#222" stroke="#222" stroke-width="0.3">75</text>
<line x1="221.2" y1="506.9" x2="223.0" y2="506.9" stroke="#6a6a6a" stroke-width="0.9"/>
<text x="220.4" y="509.2" text-anchor="end" font-size="6.4" font-weight="bold" fill="#222" stroke="#222" stroke-width="0.3">100</text>
<line x1="248.4" y1="597.4" x2="248.4" y2="599.1999999999999" stroke="#6a6a6a" stroke-width="0.9"/>
<line x1="287.3" y1="597.4" x2="287.3" y2="599.1999999999999" stroke="#6a6a6a" stroke-width="0.9"/>
<line x1="287.3" y1="541.3" x2="287.3" y2="576.0" stroke="#565d88" stroke-width="0.9"/>
<line x1="280.8" y1="541.3" x2="293.8" y2="541.3" stroke="#4a5275" stroke-width="1"/>
<line x1="280.8" y1="576.0" x2="293.8" y2="576.0" stroke="#4a5275" stroke-width="1"/>
<circle cx="246.6" cy="533.1" r="1.85" fill="#fff" stroke="#111" stroke-width="1.1"/>
<circle cx="250.8" cy="533.1" r="1.85" fill="#fff" stroke="#111" stroke-width="1.1"/>
<circle cx="246.1" cy="545.1" r="1.85" fill="#fff" stroke="#111" stroke-width="1.1"/>
<circle cx="250.8" cy="544" r="1.85" fill="#fff" stroke="#111" stroke-width="1.1"/>
<circle cx="250.4" cy="549" r="1.85" fill="#fff" stroke="#111" stroke-width="1.1"/>
<circle cx="246.6" cy="560.1" r="1.85" fill="#fff" stroke="#111" stroke-width="1.1"/>
<circle cx="241.8" cy="563.4" r="1.85" fill="#fff" stroke="#111" stroke-width="1.1"/>
<circle cx="255.1" cy="562.7" r="1.85" fill="#fff" stroke="#111" stroke-width="1.1"/>
<circle cx="246.1" cy="566.5" r="1.85" fill="#fff" stroke="#111" stroke-width="1.1"/>
<circle cx="237.6" cy="568.2" r="1.85" fill="#fff" stroke="#111" stroke-width="1.1"/>
<circle cx="250.8" cy="569.1" r="1.85" fill="#fff" stroke="#111" stroke-width="1.1"/>
<circle cx="255.1" cy="568.2" r="1.85" fill="#fff" stroke="#111" stroke-width="1.1"/>
<circle cx="241.8" cy="570.5" r="1.85" fill="#fff" stroke="#111" stroke-width="1.1"/>
<circle cx="237.6" cy="571.9" r="1.85" fill="#fff" stroke="#111" stroke-width="1.1"/>
<circle cx="246.1" cy="571.9" r="1.85" fill="#fff" stroke="#111" stroke-width="1.1"/>
<circle cx="252.5" cy="571.2" r="1.85" fill="#fff" stroke="#111" stroke-width="1.1"/>
<circle cx="259.8" cy="571.9" r="1.85" fill="#fff" stroke="#111" stroke-width="1.1"/>
<circle cx="250.8" cy="573.8" r="1.85" fill="#fff" stroke="#111" stroke-width="1.1"/>
<circle cx="255.1" cy="573.8" r="1.85" fill="#fff" stroke="#111" stroke-width="1.1"/>
<circle cx="241.8" cy="576.8" r="1.85" fill="#fff" stroke="#111" stroke-width="1.1"/>
<circle cx="248.4" cy="553.7" r="2.2" fill="#222"/>
<rect x="281.55" y="529.95" width="3.7" height="3.7" fill="#0c1063"/>
<rect x="289.25" y="529.95" width="3.7" height="3.7" fill="#0c1063"/>
<rect x="274.55" y="540.75" width="3.7" height="3.7" fill="#0c1063"/>
<rect x="281.55" y="544.05" width="3.7" height="3.7" fill="#0c1063"/>
<rect x="289.25" y="539.75" width="3.7" height="3.7" fill="#0c1063"/>
<rect x="296.55" y="542.75" width="3.7" height="3.7" fill="#0c1063"/>
<rect x="274.55" y="548.75" width="3.7" height="3.7" fill="#0c1063"/>
<rect x="289.25" y="547.35" width="3.7" height="3.7" fill="#0c1063"/>
<rect x="274.55" y="553.45" width="3.7" height="3.7" fill="#0c1063"/>
<rect x="281.55" y="555.25" width="3.7" height="3.7" fill="#0c1063"/>
<rect x="289.25" y="552.35" width="3.7" height="3.7" fill="#0c1063"/>
<rect x="296.55" y="553.85" width="3.7" height="3.7" fill="#0c1063"/>
<rect x="285.45" y="559.35" width="3.7" height="3.7" fill="#0c1063"/>
<rect x="285.45" y="564.75" width="3.7" height="3.7" fill="#0c1063"/>
<rect x="285.45" y="569.75" width="3.7" height="3.7" fill="#0c1063"/>
<rect x="281.55" y="575.95" width="3.7" height="3.7" fill="#0c1063"/>
<rect x="281.55" y="580.85" width="3.7" height="3.7" fill="#0c1063"/>
<rect x="289.25" y="578.45" width="3.7" height="3.7" fill="#0c1063"/>
<rect x="289.25" y="585.25" width="3.7" height="3.7" fill="#0c1063"/>
<rect x="281.55" y="587.95" width="3.7" height="3.7" fill="#0c1063"/>
<line x1="248.4" y1="547.7" x2="248.4" y2="575.0" stroke="#111" stroke-width="1.5"/>
<line x1="242.0" y1="547.7" x2="254.8" y2="547.7" stroke="#111" stroke-width="1.5"/>
<line x1="242.0" y1="575.0" x2="254.8" y2="575.0" stroke="#111" stroke-width="1.5"/>
<text x="268.0" y="616.7" text-anchor="middle" font-size="10.4" font-weight="bold" fill="#111" stroke="#111" stroke-width="0.3">NS</text>
<text x="383.0" y="499.8" font-size="9.4" font-weight="bold" fill="#111" stroke="#111" stroke-width="0.3">HSPCs (Lin<tspan font-size="6.5" dy="-3.4">-</tspan><tspan dy="3.4"> CD34</tspan><tspan font-size="6.5" dy="-3.4">+</tspan><tspan dy="3.4">)</tspan></text>
<text transform="translate(364.9,551.7) rotate(-90)" text-anchor="middle" font-size="8.1" font-weight="bold" fill="#111" stroke="#111" stroke-width="0.12">% Parental Cell</text>
<rect x="392.5" y="578.2" width="28.9" height="22.7" fill="#fff" stroke="#444" stroke-width="1.2"/>
<rect x="431.6" y="575.4" width="26.2" height="25.5" fill="#bfdaf5" stroke="#4a5275" stroke-width="1"/>
<line x1="378.5" y1="507.1" x2="378.5" y2="600.9" stroke="#6a6a6a" stroke-width="1.4"/>
<line x1="378.0" y1="600.9" x2="472.0" y2="600.9" stroke="#6a6a6a" stroke-width="1.3"/>
<line x1="376.7" y1="600.9" x2="378.5" y2="600.9" stroke="#6a6a6a" stroke-width="0.9"/>
<text x="375.9" y="603.2" text-anchor="end" font-size="6.4" font-weight="bold" fill="#222" stroke="#222" stroke-width="0.3">0</text>
<line x1="376.7" y1="582.2" x2="378.5" y2="582.2" stroke="#6a6a6a" stroke-width="0.9"/>
<text x="375.9" y="584.5" text-anchor="end" font-size="6.4" font-weight="bold" fill="#222" stroke="#222" stroke-width="0.3">5</text>
<line x1="376.7" y1="563.6" x2="378.5" y2="563.6" stroke="#6a6a6a" stroke-width="0.9"/>
<text x="375.9" y="565.9" text-anchor="end" font-size="6.4" font-weight="bold" fill="#222" stroke="#222" stroke-width="0.3">10</text>
<line x1="376.7" y1="544.9" x2="378.5" y2="544.9" stroke="#6a6a6a" stroke-width="0.9"/>
<text x="375.9" y="547.2" text-anchor="end" font-size="6.4" font-weight="bold" fill="#222" stroke="#222" stroke-width="0.3">15</text>
<line x1="376.7" y1="526.3" x2="378.5" y2="526.3" stroke="#6a6a6a" stroke-width="0.9"/>
<text x="375.9" y="528.6" text-anchor="end" font-size="6.4" font-weight="bold" fill="#222" stroke="#222" stroke-width="0.3">20</text>
<line x1="376.7" y1="507.6" x2="378.5" y2="507.6" stroke="#6a6a6a" stroke-width="0.9"/>
<text x="375.9" y="509.9" text-anchor="end" font-size="6.4" font-weight="bold" fill="#222" stroke="#222" stroke-width="0.3">25</text>
<line x1="404.9" y1="600.9" x2="404.9" y2="602.6999999999999" stroke="#6a6a6a" stroke-width="0.9"/>
<line x1="445.0" y1="600.9" x2="445.0" y2="602.6999999999999" stroke="#6a6a6a" stroke-width="0.9"/>
<line x1="445.0" y1="556.2" x2="445.0" y2="596.5" stroke="#565d88" stroke-width="0.9"/>
<line x1="438.5" y1="556.2" x2="451.5" y2="556.2" stroke="#9aa3c8" stroke-width="1"/>
<line x1="438.5" y1="596.5" x2="451.5" y2="596.5" stroke="#9aa3c8" stroke-width="1"/>
<circle cx="404.8" cy="525.1" r="1.85" fill="#fff" stroke="#111" stroke-width="1.1"/>
<circle cx="404.8" cy="543.6" r="1.85" fill="#fff" stroke="#111" stroke-width="1.1"/>
<circle cx="412" cy="564" r="1.85" fill="#fff" stroke="#111" stroke-width="1.1"/>
<circle cx="407.1" cy="566.5" r="1.85" fill="#fff" stroke="#111" stroke-width="1.1"/>
<circle cx="402.6" cy="566.9" r="1.85" fill="#fff" stroke="#111" stroke-width="1.1"/>
<circle cx="397.9" cy="574.5" r="1.85" fill="#fff" stroke="#111" stroke-width="1.1"/>
<circle cx="402.6" cy="578" r="1.85" fill="#fff" stroke="#111" stroke-width="1.1"/>
<circle cx="407.1" cy="578" r="1.85" fill="#fff" stroke="#111" stroke-width="1.1"/>
<circle cx="403" cy="582.4" r="1.85" fill="#fff" stroke="#111" stroke-width="1.1"/>
<circle cx="398.2" cy="585" r="1.85" fill="#fff" stroke="#111" stroke-width="1.1"/>
<circle cx="407.1" cy="584.3" r="1.85" fill="#fff" stroke="#111" stroke-width="1.1"/>
<circle cx="393.1" cy="586" r="1.85" fill="#fff" stroke="#111" stroke-width="1.1"/>
<circle cx="412" cy="585" r="1.85" fill="#fff" stroke="#111" stroke-width="1.1"/>
<circle cx="416.7" cy="586" r="1.85" fill="#fff" stroke="#111" stroke-width="1.1"/>
<circle cx="398.2" cy="589.4" r="1.85" fill="#fff" stroke="#111" stroke-width="1.1"/>
<circle cx="403" cy="587.5" r="1.85" fill="#fff" stroke="#111" stroke-width="1.1"/>
<circle cx="407.1" cy="588.8" r="1.85" fill="#fff" stroke="#111" stroke-width="1.1"/>
<circle cx="412" cy="588.8" r="1.85" fill="#fff" stroke="#111" stroke-width="1.1"/>
<circle cx="403" cy="591.6" r="1.85" fill="#fff" stroke="#111" stroke-width="1.1"/>
<circle cx="402.6" cy="598" r="1.85" fill="#fff" stroke="#111" stroke-width="1.1"/>
<circle cx="407.1" cy="596.4" r="1.85" fill="#fff" stroke="#111" stroke-width="1.1"/>
<rect x="443.15" y="530.65" width="3.7" height="3.7" fill="#0c1063"/>
<rect x="443.15" y="535.25" width="3.7" height="3.7" fill="#0c1063"/>
<rect x="443.15" y="541.65" width="3.7" height="3.7" fill="#0c1063"/>
<rect x="443.15" y="554.35" width="3.7" height="3.7" fill="#0c1063"/>
<rect x="443.15" y="558.65" width="3.7" height="3.7" fill="#0c1063"/>
<rect x="443.15" y="566.65" width="3.7" height="3.7" fill="#0c1063"/>
<rect x="440.75" y="573.55" width="3.7" height="3.7" fill="#0c1063"/>
<rect x="444.95" y="572.95" width="3.7" height="3.7" fill="#0c1063"/>
<rect x="444.95" y="576.55" width="3.7" height="3.7" fill="#0c1063"/>
<rect x="440.75" y="578.45" width="3.7" height="3.7" fill="#0c1063"/>
<rect x="431.65" y="585.35" width="3.7" height="3.7" fill="#0c1063"/>
<rect x="435.85" y="583.65" width="3.7" height="3.7" fill="#0c1063"/>
<rect x="440.75" y="583.65" width="3.7" height="3.7" fill="#0c1063"/>
<rect x="444.95" y="586.55" width="3.7" height="3.7" fill="#0c1063"/>
<rect x="449.85" y="585.35" width="3.7" height="3.7" fill="#0c1063"/>
<rect x="454.35" y="585.35" width="3.7" height="3.7" fill="#0c1063"/>
<rect x="435.85" y="588.75" width="3.7" height="3.7" fill="#0c1063"/>
<rect x="435.85" y="593.55" width="3.7" height="3.7" fill="#0c1063"/>
<rect x="444.95" y="592.95" width="3.7" height="3.7" fill="#0c1063"/>
<rect x="449.85" y="592.15" width="3.7" height="3.7" fill="#0c1063"/>
<line x1="404.9" y1="560.1" x2="404.9" y2="595.8" stroke="#111" stroke-width="1.5"/>
<line x1="398.5" y1="560.1" x2="411.3" y2="560.1" stroke="#111" stroke-width="1.5"/>
<line x1="398.5" y1="595.8" x2="411.3" y2="595.8" stroke="#111" stroke-width="1.5"/>
<text x="427.0" y="616.5" text-anchor="middle" font-size="10.4" font-weight="bold" fill="#111" stroke="#111" stroke-width="0.3">NS</text>
</svg>
</body></html>
